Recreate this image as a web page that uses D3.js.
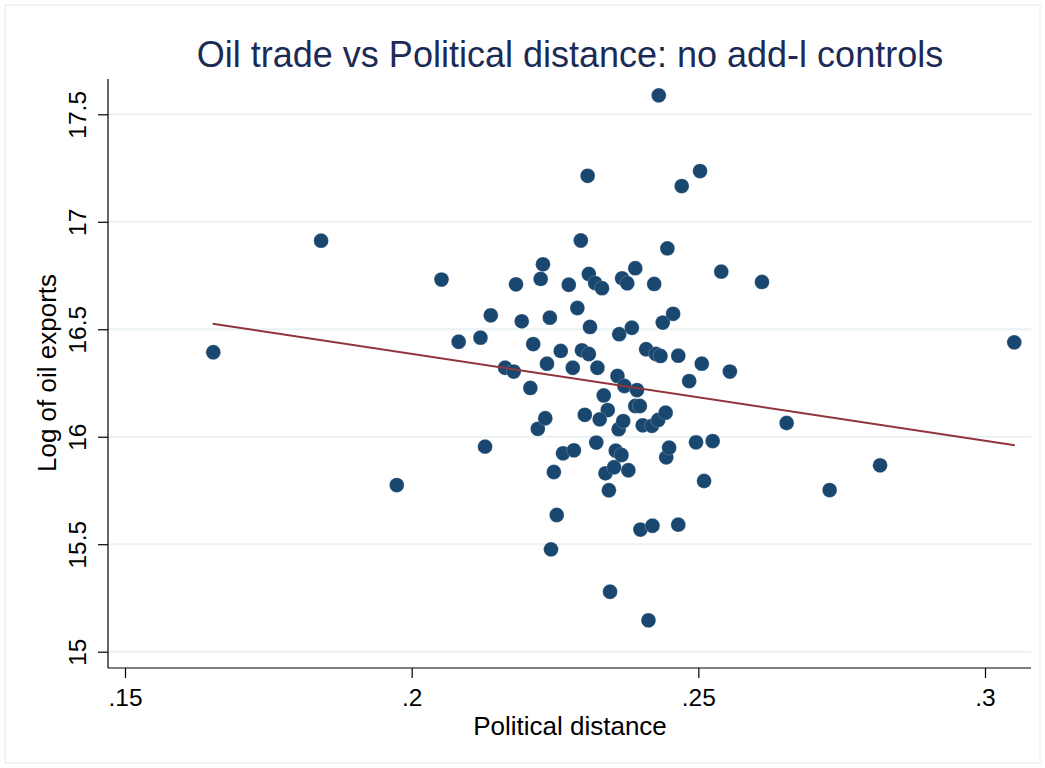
<!DOCTYPE html>
<html>
<head>
<meta charset="utf-8">
<script src="https://cdn.jsdelivr.net/npm/d3@7"></script>
<style>
  html, body { margin: 0; padding: 0; background: #fff; }
  svg { display: block; font-family: "Liberation Sans", Arial, Helvetica, sans-serif; }
</style>
</head>
<body>
<svg id="chart" width="1045" height="768"></svg>
<script>
// ---- Data ----
const chartTitle = "Oil trade vs Political distance: no add-l controls";
const xTitle = "Political distance";
const yTitle = "Log of oil exports";
const xTicks = [0.15, 0.2, 0.25, 0.3];
const xTickLabels = [".15", ".2", ".25", ".3"];
const yTicks = [15, 15.5, 16, 16.5, 17, 17.5];
const yTickLabels = ["15", "15.5", "16", "16.5", "17", "17.5"];

const polDist = [
  0.1654, 0.1842, 0.1974, 0.2052, 0.2082, 0.2120, 0.2128, 0.2138, 0.2163, 0.2178,
  0.2182, 0.2192, 0.2207, 0.2212, 0.2220, 0.2225, 0.2229, 0.2233, 0.2236, 0.2241,
  0.2243, 0.2248, 0.2253, 0.2260, 0.2264, 0.2274, 0.2281, 0.2283, 0.2289, 0.2295,
  0.2297, 0.2302, 0.2307, 0.2309, 0.2309, 0.2311, 0.2320, 0.2322, 0.2324, 0.2332,
  0.2335, 0.2338, 0.2342, 0.2344, 0.2346, 0.2328, 0.2353, 0.2356, 0.2359, 0.2361,
  0.2362, 0.2366, 0.2367, 0.2369, 0.2371, 0.2376, 0.2378, 0.2384, 0.2390, 0.2390,
  0.2398, 0.2393, 0.2399, 0.2403, 0.2409, 0.2413, 0.2419, 0.2420, 0.2423, 0.2426,
  0.2430, 0.2431, 0.2434, 0.2438, 0.2443, 0.2444, 0.2446, 0.2449, 0.2456, 0.2465,
  0.2465, 0.2471, 0.2484, 0.2496, 0.2503, 0.2506, 0.2510, 0.2525, 0.2540, 0.2555,
  0.2611, 0.2654, 0.2729, 0.2817, 0.3051
];
const logOilExports = [
  16.393, 16.912, 15.775, 16.731, 16.442, 16.461, 15.954, 16.565, 16.321, 16.303,
  16.709, 16.537, 16.227, 16.431, 16.037, 16.734, 16.802, 16.086, 16.340, 16.554,
  15.476, 15.836, 15.636, 16.399, 15.923, 16.707, 16.321, 15.937, 16.599, 16.913,
  16.402, 16.102, 17.214, 16.757, 16.385, 16.511, 16.715, 15.973, 16.321, 16.691,
  16.192, 15.830, 16.124, 15.751, 15.279, 16.081, 15.858, 15.935, 16.283, 16.035,
  16.477, 15.915, 16.737, 16.073, 16.236, 16.714, 15.844, 16.507, 16.784, 16.143,
  16.143, 16.217, 15.568, 16.053, 16.407, 15.146, 16.051, 15.586, 16.711, 16.385,
  16.078, 17.588, 16.376, 16.531, 16.112, 15.904, 16.876, 15.949, 16.572, 16.377,
  15.591, 17.166, 16.259, 15.974, 17.236, 16.340, 15.794, 15.980, 16.768, 16.303,
  16.720, 16.064, 15.752, 15.867, 16.439
];
// Fitted line end points
const fitX = [0.1653, 0.3052];
const fitY = [16.526, 15.960];

// ---- Layout ----
const svg = d3.select("#chart");
const plotLeft = 108, plotRight = 1031, plotTop = 79, plotBottom = 668;

const x = d3.scaleLinear().domain([0.15, 0.3]).range([125, 985]);
const y = d3.scaleLinear().domain([15, 17.5]).range([651.7, 114.3]);

const navy = "#1a476f";
const maroon = "#90353b";
const gridCol = "#eaf2f3";
const titleCol = "#1c2b55";

// outer graph-region frame (faint)
svg.append("rect")
  .attr("x", 5).attr("y", 5).attr("width", 1035).attr("height", 758)
  .attr("fill", "none").attr("stroke", gridCol).attr("stroke-width", 1.5);

// gridlines
svg.append("g").selectAll("line").data(yTicks).join("line")
  .attr("x1", plotLeft).attr("x2", plotRight)
  .attr("y1", d => y(d)).attr("y2", d => y(d))
  .attr("stroke", gridCol).attr("stroke-width", 2);

// Y axis
const yAxis = d3.axisLeft(y).tickValues(yTicks).tickSize(10).tickPadding(0)
  .tickFormat((d, i) => yTickLabels[i]);
const gy = svg.append("g").attr("transform", `translate(${plotLeft},0)`).call(yAxis);
gy.select(".domain").remove();
gy.selectAll(".tick line").attr("stroke", "#000").attr("stroke-width", 1.2);
gy.selectAll(".tick text")
  .attr("font-size", 24.5).attr("fill", "#000")
  .attr("text-anchor", "middle")
  .attr("x", null).attr("dy", null)
  .attr("transform", "translate(-22,0) rotate(-90)");
svg.append("line")
  .attr("x1", plotLeft).attr("x2", plotLeft).attr("y1", plotTop).attr("y2", plotBottom)
  .attr("stroke", "#000").attr("stroke-width", 1.2);

// X axis
const xAxis = d3.axisBottom(x).tickValues(xTicks).tickSize(10).tickPadding(0)
  .tickFormat((d, i) => xTickLabels[i]);
const gx = svg.append("g").attr("transform", `translate(0,${plotBottom})`).call(xAxis);
gx.select(".domain").remove();
gx.selectAll(".tick line").attr("stroke", "#000").attr("stroke-width", 1.2);
gx.selectAll(".tick text")
  .attr("font-size", 24.5).attr("fill", "#000")
  .attr("y", 38).attr("dy", null);
svg.append("line")
  .attr("x1", plotLeft).attr("x2", plotRight).attr("y1", plotBottom).attr("y2", plotBottom)
  .attr("stroke", "#000").attr("stroke-width", 1.2);

// points
const pts = polDist.map((d, i) => [d, logOilExports[i]]);
svg.append("g").selectAll("circle").data(pts).join("circle")
  .attr("cx", d => x(d[0])).attr("cy", d => y(d[1]))
  .attr("r", 7.4)
  .attr("fill", navy)
  .attr("stroke", "#ffffff").attr("stroke-opacity", 0.35).attr("stroke-width", 0.6);

// fitted line
const line = d3.line().x(d => x(d[0])).y(d => y(d[1]));
svg.append("path")
  .datum(fitX.map((d, i) => [d, fitY[i]]))
  .attr("d", line)
  .attr("fill", "none").attr("stroke", maroon).attr("stroke-width", 2);

// titles
svg.append("text")
  .attr("x", 570).attr("y", 67)
  .attr("text-anchor", "middle").attr("font-size", 36).attr("fill", titleCol)
  .text(chartTitle);
svg.append("text")
  .attr("x", 570).attr("y", 735)
  .attr("text-anchor", "middle").attr("font-size", 26).attr("fill", "#000")
  .text(xTitle);
svg.append("text")
  .attr("transform", "translate(56,373) rotate(-90)")
  .attr("text-anchor", "middle").attr("font-size", 26).attr("fill", "#000")
  .text(yTitle);
</script>
</body>
</html>
